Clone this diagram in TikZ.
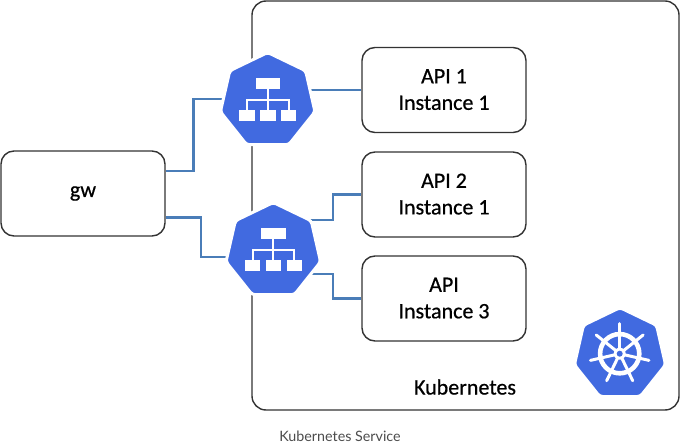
\documentclass[tikz,border=0pt]{standalone}
\usepackage{fontspec}
\setmainfont{Carlito}
\newfontfamily\handfont{Carlito}[FakeBold=0.6]
\newfontfamily\capfont{Lato}
\usetikzlibrary{shapes.geometric,backgrounds}
\definecolor{kblue}{HTML}{416AE0}
\definecolor{conn}{HTML}{4A7DB8}
\definecolor{edge}{HTML}{333333}
\tikzset{
  card/.style={draw=edge,line width=1.4pt,rounded corners=13pt,rectangle,minimum width=164pt,minimum height=85pt,align=center,inner sep=0pt,font=\handfont\fontsize{22}{26.5}\selectfont,text=black},
  frame/.style={draw=edge,line width=1.4pt,rounded corners=14pt,rectangle,minimum width=427pt,minimum height=409pt,inner sep=0pt},
  hepta/.style={regular polygon,regular polygon sides=7,fill=kblue,draw=white,line width=3pt,rounded corners=3pt,minimum size=97pt,inner sep=0pt,outer sep=0pt},
  link/.style={draw=conn,line width=2.3pt},
  glyph/.style={fill=white,draw=none},
  glyphline/.style={draw=white,line width=2pt},
  lab/.style={inner sep=0pt,font=\handfont\fontsize{22}{24}\selectfont,text=black},
  caption/.style={inner sep=0pt,font=\capfont\fontsize{14.3}{16}\selectfont,text=black!70},
  sitemap/.pic={
    \fill[glyph] (-12,-23.3) rectangle (12.3,-12);
    \fill[glyph] (-28.4,9) rectangle (-13,19.7);
    \fill[glyph] (-7.4,9) rectangle (8,19.7);
    \fill[glyph] (13.3,9) rectangle (28.6,19.7);
    \draw[glyphline] (0,-12) -- (0,9);
    \draw[glyphline] (-20.8,9) -- (-20.8,-1) -- (20.9,-1) -- (20.9,9);
  },
  helm/.pic={
    \foreach \a in {0,1,...,6}{
      \draw[white,line width=3pt,line cap=round] (0,0) -- (-90+\a*51.43:30);
    }
    \draw[white,line width=4.6pt] (0,0) circle[radius=19.6pt];
    \fill[white] (0,0) circle[radius=6pt];
    \fill[kblue] (0,0) circle[radius=3pt];
  }
}
\begin{document}
\begin{tikzpicture}[x=1pt,y=-1pt]
\useasboundingbox (0,0) rectangle (680,446);
\node[frame] (k8s) at (465.5,205.5) {};
\node[card] (gw) at (83,193.5) {gw};
\node[card] (api1) at (444,90) {\raisebox{1pt}{API 1}\\\raisebox{1pt}{Instance 1}};
\node[card] (api2) at (444,194.5) {\raisebox{1pt}{API 2}\\\raisebox{1pt}{Instance 1}};
\node[card] (api3) at (444,298.5) {\raisebox{1pt}{API}\\\raisebox{1pt}{Instance 3}};
\node[hepta] (svc1) at (267.7,101) {};
\node[hepta] (svc2) at (273.3,251) {};
\node[hepta,minimum size=93.5pt] (logo) at (620,354.4) {};
\pic at (svc1.center) {sitemap};
\pic at (svc2.center) {sitemap};
\pic at (619.7,353.7) {helm};
\node[lab] (ktext) at (465,387) {Kubernetes};
\node[caption] (cap) at (340,436) {Kubernetes Service};
\begin{scope}[on background layer]
  \fill[white] (0,0) rectangle (680,446);
  \draw[link] ([yshift=22.5pt]gw.east) -- ++(27.7,0) |- ([yshift=1.7pt]svc1.center);
  \draw[link] ([yshift=-24pt]gw.east) -- ++(35,0) |- ([yshift=-6pt]svc2.center);
  \draw[link] (svc1.center |- api1.west) -- (api1.west);
  \draw[link] ([yshift=30.7pt]svc2.center) -- ++(60,0) |- (api2.west);
  \draw[link] ([yshift=-23.3pt]svc2.center) -- ++(60,0) |- (api3.west);
\end{scope}
\end{tikzpicture}
\end{document}
